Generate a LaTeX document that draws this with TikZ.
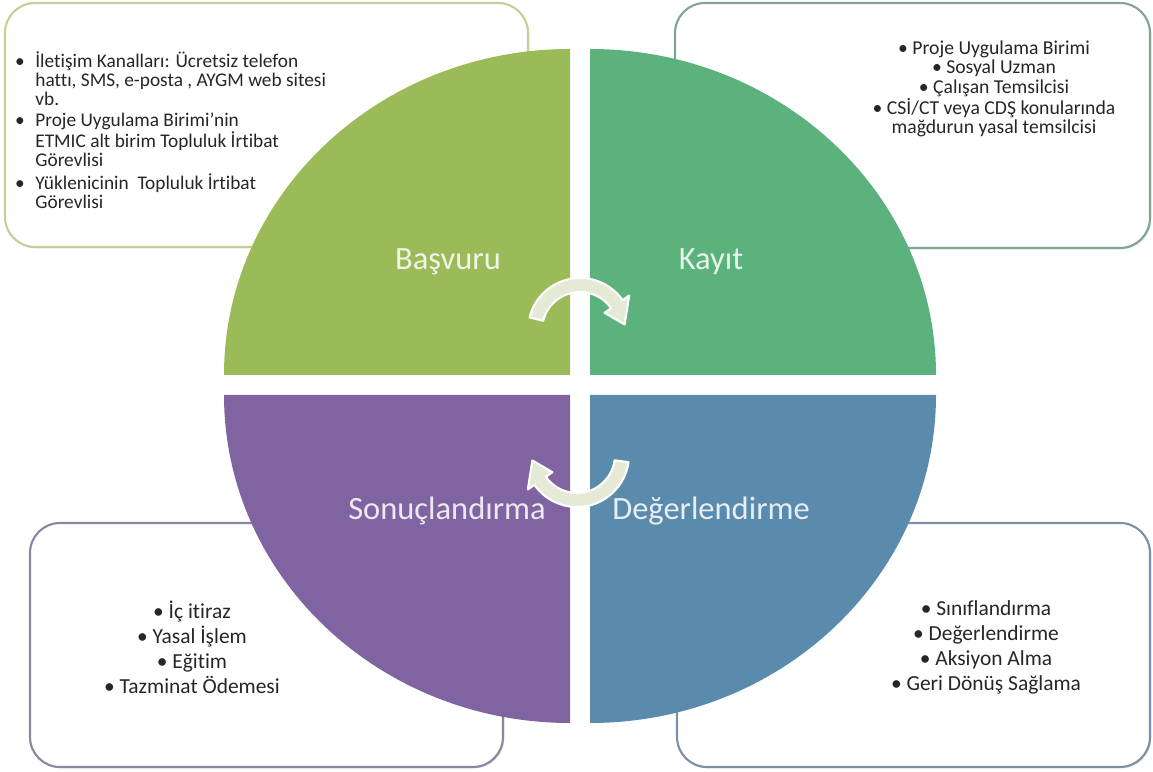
\documentclass[tikz,border=0pt]{standalone}
\usepackage{fontspec}
\setmainfont{Carlito}[Ligatures={NoCommon}]
\usetikzlibrary{shadows}
\definecolor{quadGreen}{RGB}{155,187,89}
\definecolor{quadTeal}{RGB}{92,178,124}
\definecolor{quadPurple}{RGB}{128,100,162}
\definecolor{quadBlue}{RGB}{90,139,173}
\definecolor{arrowFill}{RGB}{228,234,214}
\definecolor{lineOlive}{RGB}{190,210,150}
\definecolor{lineTeal}{RGB}{130,165,145}
\definecolor{linePurple}{RGB}{140,132,160}
\definecolor{lineBlue}{RGB}{125,143,163}
\definecolor{textDark}{RGB}{38,38,38}

\begin{document}
\begin{tikzpicture}[x=0.02cm, y=0.02cm,
    infoBox/.style={draw=#1, line width=1.2pt, rounded corners=0.6cm, fill=white,
        drop shadow={opacity=0.2, shadow xshift=0.8pt, shadow yshift=-0.8pt}},
    quadLabel/.style={font=\fontsize{18.5}{20}\selectfont, text=white!85!#1},
    cycleArrow/.style={fill=arrowFill, draw=white, line width=1.2pt, line join=round},
    listText/.style={font=\fontsize{12.2}{14.2}\selectfont, text=textDark, align=center}]
    \useasboundingbox (0,0) rectangle (1153,771);

    % bilgi kutulari
    \draw[infoBox=lineOlive] (5,524) rectangle (528,768);
    \draw[infoBox=lineTeal] (675,523) rectangle (1150,768);
    \draw[infoBox=linePurple] (30,4) rectangle (503,248);
    \draw[infoBox=lineBlue] (677,4) rectangle (1150,248);

    % daire dilimleri
    \fill[quadGreen] (570,396) -- (224,396) arc[start angle=180, end angle=90, x radius=346, y radius=326] -- cycle;
    \fill[quadTeal] (590,396) -- (590,722) arc[start angle=90, end angle=0, x radius=346, y radius=326] -- cycle;
    \fill[quadPurple] (570,376) -- (570,48) arc[start angle=270, end angle=180, x radius=346, y radius=328] -- cycle;
    \fill[quadBlue] (590,376) -- (936,376) arc[start angle=0, end angle=-90, x radius=346, y radius=328] -- cycle;

    % donus oklari
    \begin{scope}[shift={(580,441)}]
        \draw[cycleArrow] (166:52) arc[start angle=166, end angle=35, radius=52] -- (35:60) -- (7:45)
            -- (35:30) -- (35:38) arc[start angle=35, end angle=166, radius=38] -- cycle;
    \end{scope}
    \begin{scope}[shift={(577,316)}]
        \draw[cycleArrow] (-8:52) arc[start angle=-8, end angle=-145, radius=52] -- (-145:60) -- (-173:45)
            -- (-145:30) -- (-145:38) arc[start angle=-145, end angle=-8, radius=38] -- cycle;
    \end{scope}

    % basliklar
    \node[quadLabel=quadGreen] (basvuru) at (448,509) {Başvuru};
    \node[quadLabel=quadTeal] (kayit) at (711,509) {Kayıt};
    \node[quadLabel=quadPurple] (sonuc) at (447,260) {Sonuçlandırma};
    \node[quadLabel=quadBlue] (deger) at (711,260) {Değerlendirme};

    % listeler
    \node[anchor=base west, font=\fontsize{11}{10.4}\selectfont, text=textDark] (basvuruList) at (9,703) {%
        \begin{tabular}[t]{@{}l@{\hspace{6pt}}l@{}}
            • & İletişim Kanalları: Ücretsiz telefon\\
              & hattı, SMS, e-posta , AYGM web sitesi\\
              & vb.\\[1pt]
            • & Proje Uygulama Birimi\symbol{39}nin\\
              & ETMIC alt birim Topluluk İrtibat\\
              & Görevlisi\\[1pt]
            • & Yüklenicinin\ \ Topluluk İrtibat\\
              & Görevlisi
        \end{tabular}};
    \node[listText, font=\fontsize{11.2}{11}\selectfont] (kayitList) at (994,682)
        {• Proje Uygulama Birimi\\ • Sosyal Uzman\\ • Çalışan Temsilcisi\\
         • CSİ/CT veya CDŞ konularında\\ mağdurun yasal temsilcisi};
    \node[listText] (sonucList) at (192,124)
        {• İç itiraz\\ • Yasal İşlem\\ • Eğitim\\ • Tazminat Ödemesi};
    \node[listText] (degerList) at (986,124)
        {• Sınıflandırma\\ • Değerlendirme\\ • Aksiyon Alma\\ • Geri Dönüş Sağlama};
\end{tikzpicture}
\end{document}
